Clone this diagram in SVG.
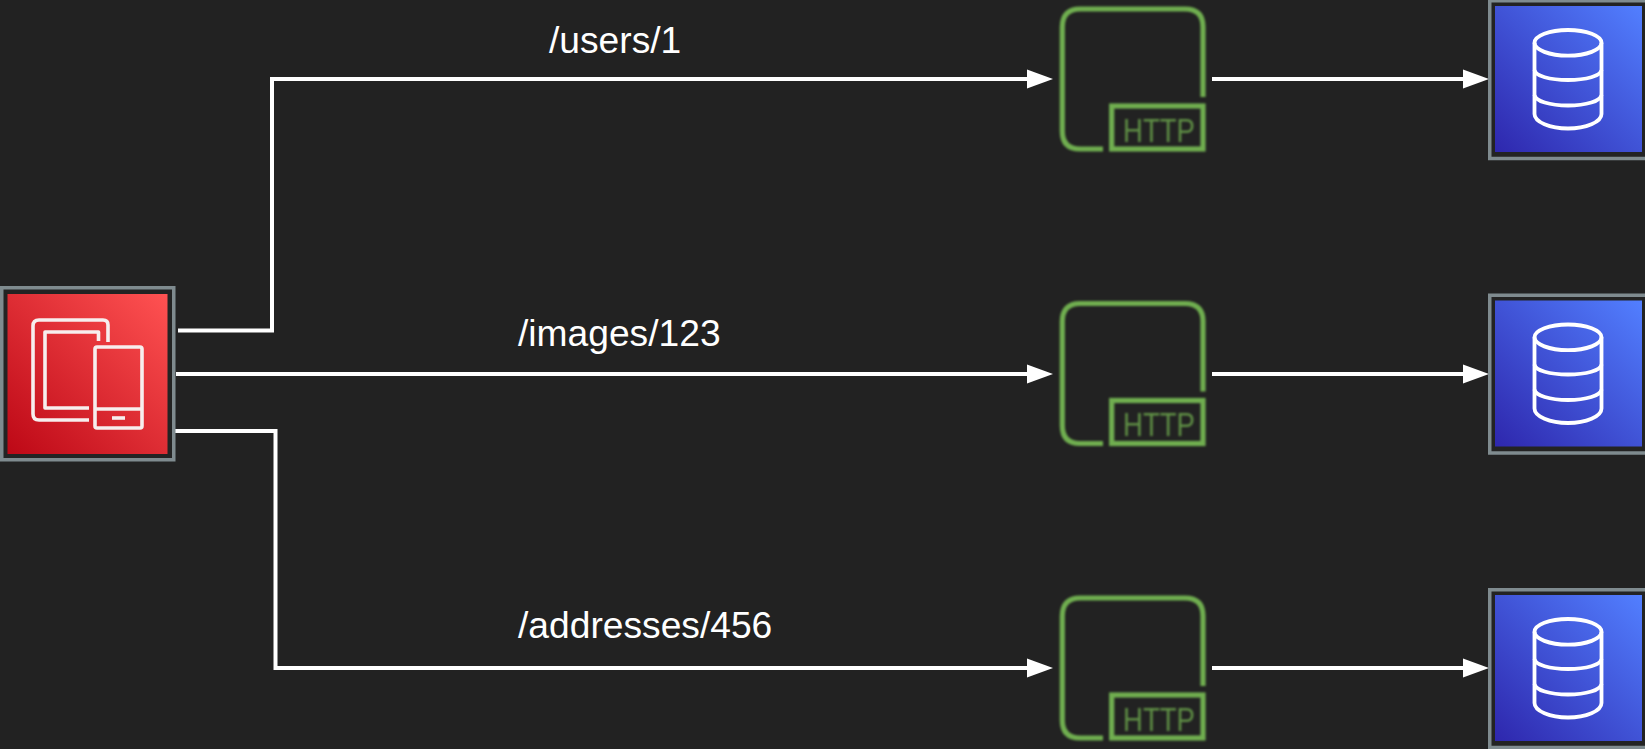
<svg xmlns="http://www.w3.org/2000/svg" width="1645" height="749" viewBox="0 0 1645 749">
<style>
.bg{fill:#222222}
.frame{fill:#232323;stroke:#7f8b8f;stroke-width:3.5}
.conn{fill:none;stroke:#ffffff;stroke-width:4;stroke-linejoin:miter}
.ic{fill:none;stroke:#f7eeee;stroke-width:3.6;stroke-linejoin:round;filter:url(#soft)}
.db{fill:none;stroke:#ffffff;stroke-width:3.8;filter:url(#soft)}
.gw{fill:none;stroke:#6fae50;stroke-width:5.2}
.lbl{font-family:"Liberation Sans",Arial,sans-serif;font-size:37.200px;fill:#ffffff}
.http{font-family:"Liberation Sans",Arial,sans-serif;font-size:34px;fill:#5f8f45}
</style>
<defs>
<filter id="soft" x="-10%" y="-10%" width="120%" height="120%"><feGaussianBlur stdDeviation="0.4"/></filter>
<filter id="soft2" x="-10%" y="-10%" width="120%" height="120%"><feGaussianBlur stdDeviation="0.8"/></filter>
<linearGradient id="red" x1="0" y1="1" x2="1" y2="0"><stop offset="0" stop-color="#bd0816"/><stop offset="1" stop-color="#ff5252"/></linearGradient>
<linearGradient id="blue" x1="0" y1="1" x2="1" y2="0"><stop offset="0" stop-color="#2e27ad"/><stop offset="1" stop-color="#527fff"/></linearGradient>
<marker id="arr" markerUnits="userSpaceOnUse" markerWidth="28" markerHeight="20" refX="11" refY="10" orient="auto"><path d="M0,0.500 L26,10 L0,19.500 Z" fill="#ffffff"/></marker>
<g id="gwshape" filter="url(#soft2)">
<path class="gw" d="M1103,149 H1080 Q1062.300,149 1062.300,131 V27 Q1062.300,9 1080,9 H1185 Q1203,9 1203,27 V97"/>
<rect class="gw" x="1111.700" y="106" width="91.300" height="43"/>
<text class="http" x="1123" y="141.500" textLength="72" lengthAdjust="spacingAndGlyphs">HTTP</text>
</g>
<g id="dbshape">
<rect class="frame" x="1489.750" y="0.750" width="170" height="157.750"/>
<rect x="1495" y="6" width="147" height="146" fill="url(#blue)"/>
<g class="db">
<ellipse cx="1568" cy="42.800" rx="33.500" ry="12.800"/>
<path d="M1534.500,42.800 V114 C1534.500,122 1550,128.500 1568,128.500 C1586,128.500 1601.500,122 1601.500,114 V42.800"/>
<path d="M1534.500,70 C1535,76 1550,80 1568,80 C1586,80 1601,76 1601.500,70"/>
<path d="M1534.500,95 C1535,101 1550,105.500 1568,105.500 C1586,105.500 1601,101 1601.500,95"/>
</g>
</g>
</defs>
<rect class="bg" width="1645" height="749"/>
<g id="connectors">
<path class="conn" marker-end="url(#arr)" d="M178,330.500 H272 V79 H1038"/>
<path class="conn" marker-end="url(#arr)" d="M176,374 H1038"/>
<path class="conn" marker-end="url(#arr)" d="M174,431 H275.500 V668 H1038"/>
<path class="conn" marker-end="url(#arr)" d="M1212,79 H1474"/>
<path class="conn" marker-end="url(#arr)" d="M1212,374 H1474"/>
<path class="conn" marker-end="url(#arr)" d="M1212,668 H1474"/>
</g>
<g id="client">
<rect class="frame" x="1.750" y="287.750" width="172" height="172"/>
<rect x="7.500" y="294" width="160" height="160" fill="url(#red)"/>
<g class="ic">
<path d="M108,342 V325 Q108,320 103,320 H39 Q33,320 33,326 V414 Q33,420 39,420 H89"/>
<path d="M98.500,341 V332 H45 V408 H89"/>
<rect x="95" y="347" width="47" height="81" rx="2"/>
<path d="M95,409 H142"/>
<path d="M112,418 H125"/>
</g>
</g>
<g id="gateway-1"><use href="#gwshape"/></g>
<g id="gateway-2" transform="translate(0,294.500)"><use href="#gwshape"/></g>
<g id="gateway-3" transform="translate(0,589)"><use href="#gwshape"/></g>
<g id="db-1"><use href="#dbshape"/></g>
<g id="db-2" transform="translate(0,294.500)"><use href="#dbshape"/></g>
<g id="db-3" transform="translate(0,589)"><use href="#dbshape"/></g>
<g id="labels">
<text class="lbl" x="549" y="53">/users/1</text>
<text class="lbl" x="518" y="346">/images/123</text>
<text class="lbl" x="518" y="638">/addresses/456</text>
</g>
</svg>
